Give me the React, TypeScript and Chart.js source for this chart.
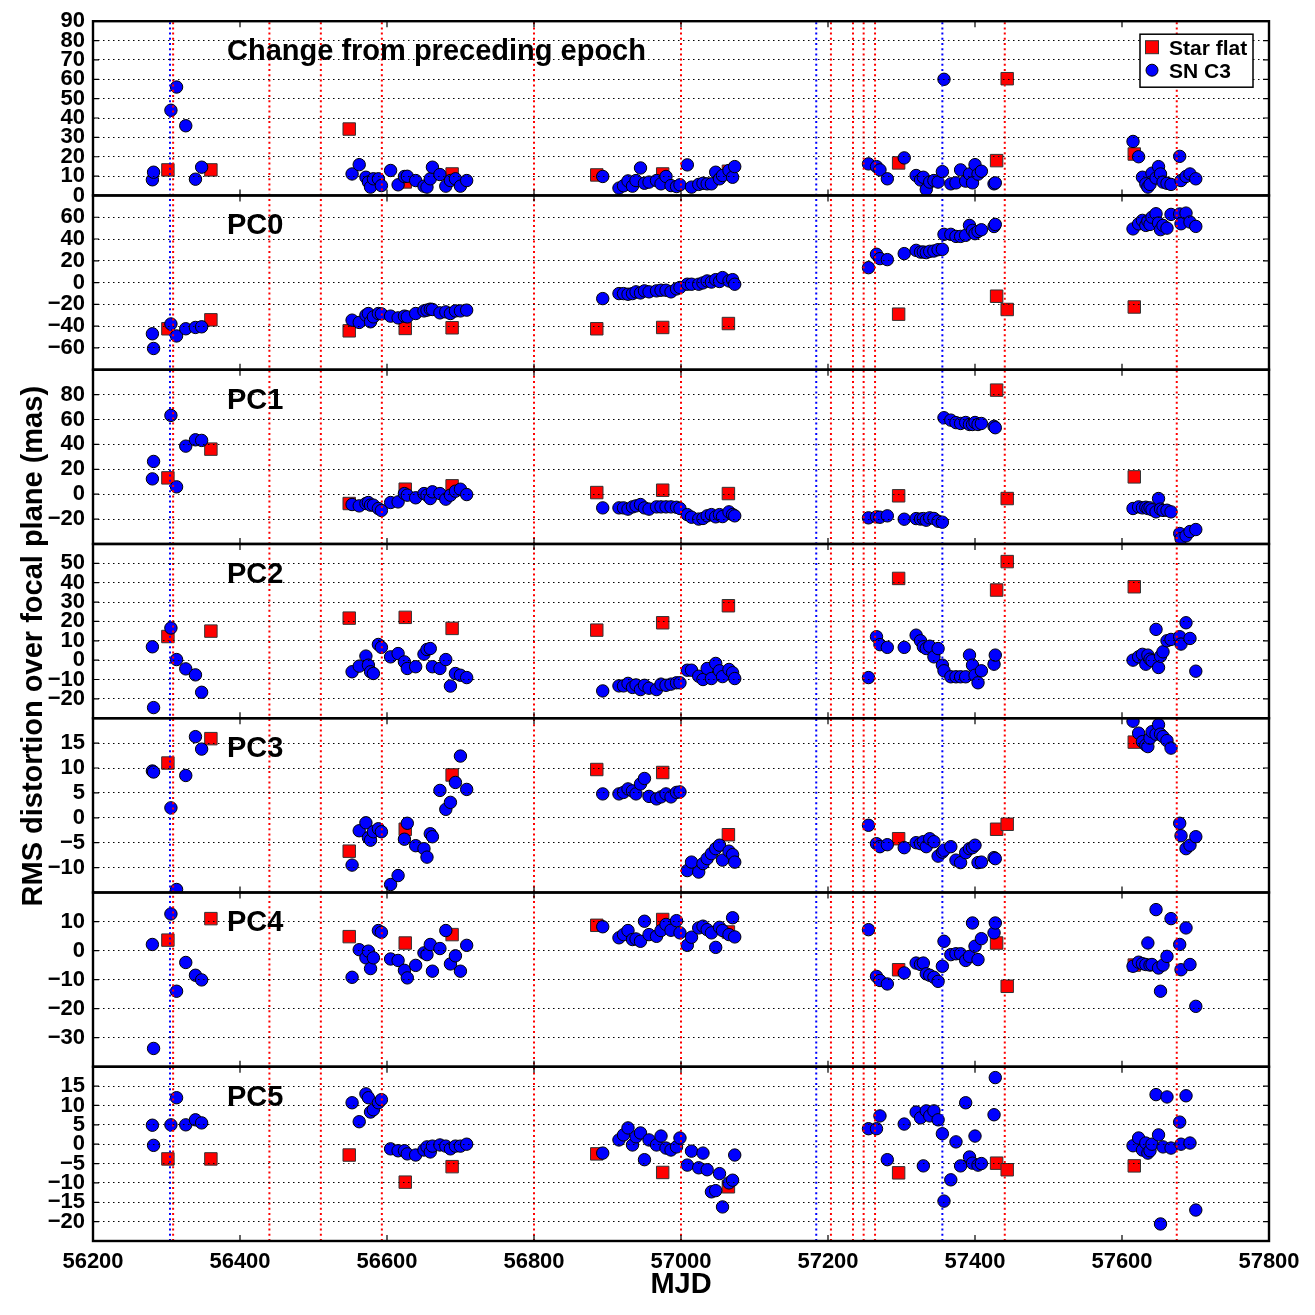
import { useEffect, useRef } from 'react';
import { Chart, registerables } from 'chart.js';

Chart.register(...registerables);

const FONT = "'Liberation Sans', Arial, Helvetica, sans-serif";

// SN C3 epochs (MJD): SV, Y1, Y2, Y3, Y4 seasons
const snEpochs = [
  56280.8, 56282.4, 56306.0, 56313.7, 56326.2, 56339.4, 56347.8,
  56552.5, 56562.2, 56571.3, 56574.7, 56577.6, 56581.5, 56588.3, 56592.4, 56604.9, 56615.1, 56623.7, 56627.6,
  56639.0, 56650.3, 56654.4, 56658.9, 56661.8, 56672.0, 56680.0, 56686.3, 56693.1, 56699.9, 56708.4,
  56893.5, 56915.6, 56921.8, 56927.9, 56934.0, 56938.8, 56944.9, 56950.3, 56956.5, 56966.7, 56972.8, 56979.6,
  56986.4, 56993.9, 56998.6, 57008.6, 57014.3, 57024.1, 57029.9, 57035.6, 57041.4, 57047.2, 57052.4, 57056.5,
  57065.3, 57070.2, 57073.1,
  57255.1, 57266.0, 57270.7, 57280.7, 57303.7, 57319.9, 57325.9, 57329.7, 57333.7, 57338.4, 57344.1, 57349.8,
  57355.6, 57357.8, 57367.1, 57374.1, 57380.4, 57387.3, 57392.5, 57396.6, 57400.0, 57404.1, 57408.7, 57425.9, 57427.6,
  57615.0, 57622.6, 57627.8, 57632.4, 57635.2, 57638.1, 57640.8, 57646.3, 57649.7, 57652.4, 57655.8, 57661.2,
  57666.7, 57678.5, 57680.3, 57687.1, 57692.5, 57700.4,
];

const snChange = [
  8.1, 12.0, 44.0, 56.0, 36.0, 8.4, 14.6,
  11.1, 15.9, 9.4, 6.9, 4.3, 8.6, 8.6, 5.1, 12.9, 5.5, 9.8, 9.9, 7.7, 4.8, 4.3, 8.6, 14.6, 10.8, 4.8, 7.7, 8.6, 4.8, 7.7,
  9.8, 3.8, 5.0, 7.5, 4.8, 7.7, 14.2, 6.3, 6.9, 7.7, 6.0, 9.8, 5.1, 4.6, 5.5, 15.8, 4.3, 5.7, 6.3, 6.0, 6.0, 12.0, 8.6, 10.3, 12.9, 9.4, 14.9,
  16.3, 14.9, 13.2, 8.6, 19.4, 10.3, 8.0, 9.4, 3.1, 6.9, 7.7, 6.9, 12.3, 60.0, 6.0, 6.5, 13.2, 7.4, 11.1, 6.5, 15.9, 11.0, 12.5, 6.0, 6.5,
  27.9, 20.0, 9.4, 6.0, 4.3, 5.7, 11.5, 9.0, 14.9, 11.1, 6.9, 6.3, 5.7, 20.2, 7.7, 9.8, 11.1, 8.6,
];

const snPC0 = [
  -47.0, -60.5, -38.0, -49.0, -42.4, -41.2, -40.6,
  -34.5, -36.6, -29.9, -28.4, -36.0, -31.5, -28.4, -28.7, -30.8, -32.4, -30.8, -31.5, -28.4, -26.0, -25.3, -24.4, -24.7, -27.8, -26.9, -28.4, -26.0, -26.0, -25.3,
  -14.7, -10.1, -10.1, -10.7, -10.1, -8.5, -9.5, -7.6, -8.5, -7.6, -7.0, -7.0, -8.5, -5.8, -4.5, -1.5, -1.5, -1.5, -0.3, 1.5, 0.5, 2.7, 1.0, 4.6, 1.5, 2.7, -1.5,
  13.7, 26.0, 22.0, 21.1, 26.6, 29.6, 28.0, 28.1, 27.5, 28.7, 29.0, 30.2, 30.5, 44.3, 44.3, 42.4, 42.4, 43.4, 52.5, 47.9, 44.9, 47.0, 48.5, 51.5, 53.4,
  49.3, 53.9, 57.1, 52.5, 56.5, 53.4, 60.0, 63.2, 54.7, 48.6, 52.5, 50.0, 62.6, 63.0, 54.0, 63.8, 55.6, 51.6,
];

const snPC1 = [
  12.3, 26.3, 63.3, 5.9, 38.6, 43.7, 43.2,
  -8.3, -9.4, -7.5, -6.7, -8.8, -8.8, -11.5, -13.1, -6.7, -6.2, 0.5, -0.8, -2.9, 0.5, -0.8, -3.5, 1.9, 0.5, -4.0, -0.8, 2.4, 4.0, -0.3,
  -11.0, -11.0, -11.0, -12.0, -10.2, -9.4, -8.3, -11.0, -12.0, -10.2, -10.2, -10.2, -10.2, -10.5, -11.5, -16.4, -18.5, -20.0, -19.5, -17.4, -16.4, -18.2, -16.4, -18.0, -14.2, -16.4, -17.4,
  -19.0, -18.2, -18.5, -17.4, -20.1, -19.6, -20.0, -19.6, -20.9, -19.0, -19.5, -21.7, -22.5, 61.4, 59.5, 57.5, 56.8, 57.6, 56.0, 56.0, 57.6, 56.0, 56.8, 54.5, 53.4,
  -11.5, -10.2, -11.0, -10.5, -11.5, -11.0, -12.5, -14.2, -3.5, -12.0, -13.0, -12.9, -14.2, -31.6, -35.7, -33.5, -30.0, -28.4,
];

const snPC2 = [
  6.9, -24.5, 16.6, 0.3, -4.5, -7.6, -16.6,
  -6.0, -3.1, 2.1, -2.6, -6.0, -6.9, 8.1, 6.6, 1.7, 3.4, -0.9, -4.3, -3.4, 3.1, 5.5, 6.0, -3.4, -4.3, 0.3, -13.4, -6.9, -7.8, -9.0,
  -15.9, -13.3, -13.3, -12.0, -14.1, -12.8, -15.2, -13.0, -14.5, -15.2, -12.4, -13.0, -12.4, -11.7, -11.7, -5.2, -5.2, -8.3, -10.0, -4.3, -9.5, -1.7, -5.5, -8.5, -4.8, -6.5, -9.5,
  -9.0, 12.1, 8.0, 6.6, 6.6, 12.9, 10.0, 6.9, 6.0, 7.2, 1.7, 6.0, -2.6, -5.5, -8.6, -8.6, -8.6, -8.6, 2.6, -2.6, -7.8, -11.7, -5.5, -2.1, 2.6,
  0.0, 1.7, 3.0, -2.1, 2.6, 0.5, -0.3, 15.9, -3.8, 2.0, 4.3, 10.0, 10.7, 12.1, 8.3, 19.3, 11.2, -5.7,
];

const snPC3 = [
  9.4, 9.2, 2.0, -14.4, 8.5, 16.3, 13.8,
  -9.5, -2.6, -1.0, -4.0, -4.5, -2.8, -2.2, -2.8, -13.4, -11.6, -4.3, -1.1, -5.6, -6.2, -7.9, -3.2, -3.8, 5.5, 1.7, 3.1, 7.1, 12.4, 5.7,
  4.8, 4.8, 5.1, 5.8, 5.4, 4.8, 6.8, 7.9, 4.3, 3.8, 4.2, 4.8, 4.2, 5.1, 5.2, -10.6, -8.9, -10.9, -9.2, -8.2, -7.2, -6.2, -5.5, -8.5, -6.7, -7.4, -8.9,
  -1.5, -5.2, -5.8, -5.4, -6.0, -5.0, -5.2, -4.8, -5.8, -4.2, -4.8, -7.7, -6.9, -6.5, -5.8, -8.5, -9.0, -7.0, -6.2, -6.0, -5.5, -9.0, -8.9, -8.0, -8.2,
  19.4, 17.0, 15.3, 14.6, 14.3, 16.0, 17.3, 16.8, 18.7, 16.8, 16.3, 15.5, 14.0, -1.1, -3.6, -6.2, -5.5, -3.8,
];

const snPC4 = [
  2.1, -33.7, 12.6, -14.0, -4.1, -8.5, -10.1,
  -9.2, 0.3, -2.5, -0.2, -6.2, -2.5, 6.9, 6.3, -2.9, -3.4, -6.8, -9.4, -5.1, -0.8, -1.4, 2.1, -7.1, 0.7, 6.9, -4.6, -1.8, -7.1, 1.8,
  8.2, 4.4, 5.5, 6.9, 3.8, 4.0, 3.2, 10.1, 5.5, 4.9, 6.9, 9.0, 7.0, 10.3, 6.1, 1.8, 4.6, 7.8, 8.4, 7.2, 6.1, 1.1, 8.0, 6.9, 5.5, 11.3, 4.7,
  7.2, -8.9, -10.3, -11.5, -7.7, -4.3, -4.8, -4.3, -8.0, -8.5, -9.2, -10.6, -5.4, 3.2, -1.4, -1.1, -1.1, -3.4, -2.0, 9.5, 1.5, -3.1, 4.1, 6.1, 9.5,
  -5.4, -4.0, -4.5, -4.8, 2.6, -5.0, -4.8, 14.1, -6.0, -14.0, -5.0, -2.0, 11.0, 2.1, -6.6, 7.8, -4.8, -19.2,
];

const snPC5 = [
  4.9, -0.3, 5.0, 12.0, 5.0, 6.3, 5.5,
  10.7, 5.8, 13.0, 12.0, 8.3, 8.9, 10.7, 11.5, -1.2, -1.7, -1.7, -2.5, -2.8, -1.5, -0.7, -2.0, -0.5, -0.2, -0.5, -1.2, -0.5, -0.5, 0.0,
  -2.3, 1.1, 2.4, 4.2, -0.2, 1.9, 2.9, -4.0, 1.1, -0.2, 2.1, -1.0, -1.5, -0.7, 1.6, -5.4, -1.8, -6.1, -2.3, -6.6, -12.3, -12.0, -7.6, -16.2, -10.0, -9.3, -2.8,
  4.0, 4.0, 7.3, -4.0, 5.2, 8.3, 6.8, -5.6, 8.6, 7.3, 8.6, 6.3, 2.7, -14.7, -9.2, 0.6, -5.6, 10.7, -3.3, -4.9, 2.1, -5.4, -5.0, 7.6, 17.2,
  -0.4, 1.6, -1.5, 0.3, -2.3, -1.7, 0.0, 12.8, 2.4, -20.6, -0.7, 12.2, -1.0, 5.7, 0.0, 12.5, 0.3, -17.0,
];

// Star flat epochs (MJD) and values
const flatEpochs = [56301.9, 56360.4, 56548.6, 56624.8, 56688.6, 56885.4, 56975.1, 57064.5, 57296.1, 57429.4, 57443.8, 57616.7];
const flatChange = [13.2, 13.2, 34.3, 7.0, 11.1, 10.6, 11.1, 12.5, 16.8, 18.0, 60.3, 21.4];
const flatPC0 = [-42.4, -34.2, -44.3, -42.1, -41.5, -42.4, -41.2, -37.6, -29.0, -12.5, -24.7, -22.4];
const flatPC1 = [13.1, 36.2, -7.5, 4.0, 6.7, 1.3, 3.2, 0.5, -1.3, 83.6, -3.5, 13.9];
const flatPC2 = [12.2, 15.0, 21.7, 22.1, 16.4, 15.5, 19.3, 28.1, 42.2, 36.2, 50.9, 37.9];
const flatPC3 = [11.0, 15.9, -6.7, -2.3, 8.6, 9.7, 9.1, -3.4, -4.2, -2.3, -1.3, 15.2];
const flatPC4 = [3.6, 11.0, 4.8, 2.6, 5.5, 8.7, 10.7, 6.4, -6.6, 2.6, -12.3, -5.0];
const flatPC5 = [-3.8, -3.8, -2.8, -9.8, -5.8, -2.5, -7.3, -11.0, -7.4, -4.9, -6.6, -5.6];

// Instrument events (MJD)
const redEvents = [56309, 56440, 56510, 56593, 56800, 57000, 57204, 57234, 57248.5, 57264, 57440.5, 57674.5];
const blueEvents = [56304.8, 57184, 57355.6];

const panelTitles = ['Change from preceding epoch', 'PC0', 'PC1', 'PC2', 'PC3', 'PC4', 'PC5'];
const panelMin = [0, -80, -40, -30, -15, -40, -25];
const panelMax = [90, 80, 100, 60, 20, 20, 20];
const panelStep = [10, 20, 20, 10, 5, 10, 5];
const snSeries = [snChange, snPC0, snPC1, snPC2, snPC3, snPC4, snPC5];
const flatSeries = [flatChange, flatPC0, flatPC1, flatPC2, flatPC3, flatPC4, flatPC5];

const panelIds = panelTitles.map((_, i) => 'p' + i);

const fmt = (v: number) => {
  const r = Math.round(v * 100) / 100;
  return r < 0 ? '\u2212' + Math.abs(r) : String(r);
};

const decorPlugin = {
  id: 'panelDecor',
  afterDraw(chart: any) {
    const { ctx, chartArea: ca } = chart;
    const xs = chart.scales.x;
    ctx.save();
    ctx.setLineDash([]);
    panelIds.forEach((id, i) => {
      const s = chart.scales[id];
      // inward ticks
      ctx.strokeStyle = '#000';
      ctx.lineWidth = 1.2;
      ctx.beginPath();
      s.ticks.forEach((t: any) => {
        const y = s.getPixelForValue(t.value);
        ctx.moveTo(ca.left, y);
        ctx.lineTo(ca.left + 6, y);
        ctx.moveTo(ca.right, y);
        ctx.lineTo(ca.right - 6, y);
      });
      xs.ticks.forEach((t: any) => {
        const x = xs.getPixelForValue(t.value);
        ctx.moveTo(x, s.bottom);
        ctx.lineTo(x, s.bottom - 6);
        ctx.moveTo(x, s.top);
        ctx.lineTo(x, s.top + 6);
      });
      ctx.stroke();
      // panel frame
      ctx.lineWidth = 2.4;
      ctx.strokeRect(ca.left, s.top, ca.right - ca.left, s.bottom - s.top);
      // panel title
      ctx.fillStyle = '#000';
      ctx.font = `bold 29px ${FONT}`;
      ctx.textAlign = 'left';
      ctx.textBaseline = 'alphabetic';
      ctx.fillText(panelTitles[i], ca.left + 134, s.top + 39);
    });

    // legend in the top panel
    const s0 = chart.scales[panelIds[0]];
    const bx = ca.right - 129;
    const by = s0.top + 13;
    ctx.fillStyle = '#fff';
    ctx.fillRect(bx, by, 113, 53);
    ctx.strokeStyle = '#000';
    ctx.lineWidth = 1.5;
    ctx.strokeRect(bx, by, 113, 53);
    ctx.fillStyle = '#ff0000';
    ctx.fillRect(bx + 5.5, by + 6.5, 13, 13);
    ctx.strokeStyle = '#333';
    ctx.lineWidth = 1;
    ctx.strokeRect(bx + 5.5, by + 6.5, 13, 13);
    ctx.beginPath();
    ctx.arc(bx + 12, by + 36, 6, 0, Math.PI * 2);
    ctx.fillStyle = '#0000ff';
    ctx.fill();
    ctx.strokeStyle = '#000';
    ctx.stroke();
    ctx.fillStyle = '#000';
    ctx.font = `bold 21px ${FONT}`;
    ctx.textAlign = 'left';
    ctx.fillText('Star flat', bx + 29, by + 20.5);
    ctx.fillText('SN C3', bx + 29, by + 43.5);

    // axis titles
    ctx.font = `bold 29px ${FONT}`;
    ctx.textAlign = 'center';
    ctx.fillText('MJD', (ca.left + ca.right) / 2, ca.bottom + 52);
    ctx.translate(31.5, ca.top + 625);
    ctx.rotate(-Math.PI / 2);
    ctx.fillText('RMS distortion over focal plane (mas)', 0, 10.4);
    ctx.restore();
  },
};

export default function App() {
  const ref = useRef<HTMLCanvasElement>(null);

  useEffect(() => {
    const datasets: any[] = [];
    panelIds.forEach((id, i) => {
      datasets.push({
        label: 'SN C3',
        data: snEpochs.map((x, k) => ({ x, y: snSeries[i][k] })),
        yAxisID: id,
        showLine: false,
        pointStyle: 'circle',
        pointRadius: 6.2,
        pointBackgroundColor: '#0000ff',
        pointBorderColor: '#000',
        pointBorderWidth: 1,
        order: 1,
      });
      datasets.push({
        label: 'Star flat',
        data: flatEpochs.map((x, k) => ({ x, y: flatSeries[i][k] })),
        yAxisID: id,
        showLine: false,
        pointStyle: 'rect',
        pointRadius: 8.8,
        pointBackgroundColor: '#ff0000',
        pointBorderColor: '#333',
        pointBorderWidth: 1,
        order: 2,
      });
    });
    const eventLine = (m: number, color: string) => ({
      label: 'event',
      data: [{ x: m, y: 0 }, { x: m, y: 1 }],
      yAxisID: 'y',
      showLine: true,
      borderColor: color,
      borderWidth: 2,
      borderDash: [2, 3.2],
      pointRadius: 0,
      order: 0,
    });
    redEvents.forEach((m) => datasets.push(eventLine(m, '#ff0000')));
    blueEvents.forEach((m) => datasets.push(eventLine(m, '#0000ff')));

    const scales: any = {
      x: {
        type: 'linear',
        position: 'bottom',
        min: 56200,
        max: 57800,
        grid: { display: false },
        border: { display: false },
        ticks: {
          stepSize: 200,
          autoSkip: false,
          maxRotation: 0,
          padding: 0,
          color: '#000',
          font: { family: FONT, size: 22, weight: 'bold' },
          callback: (v: number) => String(v),
        },
        afterFit: (s: any) => {
          s.height = 74;
        },
      },
      y: { type: 'linear', min: 0, max: 1, display: false },
    };
    panelIds.forEach((id, i) => {
      scales[id] = {
        type: 'linear',
        position: 'left',
        stack: 'panels',
        stackWeight: 1,
        weight: 7 - i,
        min: panelMin[i],
        max: panelMax[i],
        afterBuildTicks:
          i === 0
            ? undefined
            : (s: any) => {
                s.ticks = s.ticks.filter((t: any) => t.value > s.min && t.value < s.max);
              },
        afterFit: (s: any) => {
          s.width = 60;
        },
        grid: { color: '#000', lineWidth: 1, drawTicks: false, z: 1 },
        border: { display: false, dash: [1.5, 3.5] },
        ticks: {
          stepSize: panelStep[i],
          autoSkip: false,
          padding: 8,
          color: '#000',
          font: { family: FONT, size: 22, weight: 'bold' },
          callback: (v: number) => fmt(v),
        },
      };
    });

    const chart = new Chart(ref.current as HTMLCanvasElement, {
      type: 'scatter',
      data: { datasets },
      options: {
        animation: false,
        responsive: false,
        devicePixelRatio: 1,
        events: [],
        layout: { padding: { left: 33, right: 46, top: 20, bottom: 0 } },
        plugins: { legend: { display: false }, tooltip: { enabled: false } },
        scales,
      },
      plugins: [decorPlugin],
    } as any);
    return () => chart.destroy();
  }, []);

  return (
    <div style={{ position: 'absolute', left: 0, top: 0, width: 1315, height: 1315, background: '#fff' }}>
      <canvas ref={ref} width={1315} height={1315} style={{ display: 'block', width: 1315, height: 1315 }} />
    </div>
  );
}
